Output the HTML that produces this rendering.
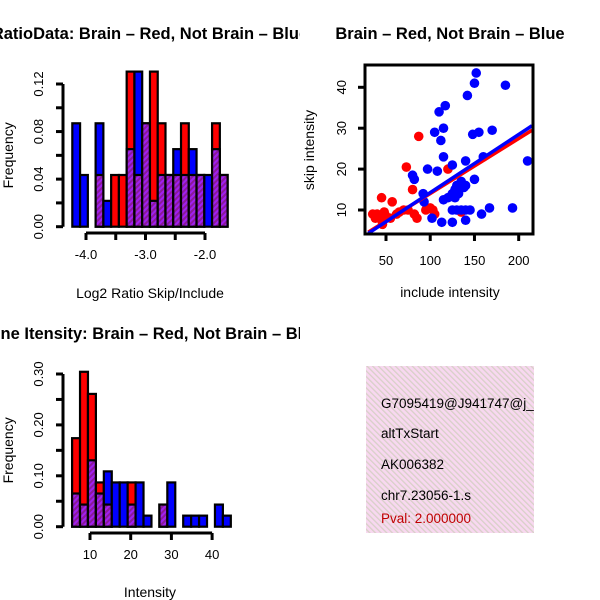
<!DOCTYPE html>
<html><head><meta charset="utf-8"><style>body{margin:0;background:#fff}svg{display:block;font-family:"Liberation Sans",sans-serif}</style></head>
<body>
<svg id="c" width="600" height="600" viewBox="0 0 600 600">
<defs>
<pattern id="hp" width="4" height="4" patternUnits="userSpaceOnUse" patternTransform="rotate(45)"><rect width="4" height="4" fill="#a020f0"/><rect width="2" height="4" fill="#8a1a9a"/></pattern>
<pattern id="pk" width="4" height="4" patternUnits="userSpaceOnUse" patternTransform="rotate(-45)"><rect width="4" height="4" fill="#f8d8f0"/><rect width="1.3" height="4" fill="#d8d0c8"/></pattern>
<clipPath id="cl"><rect x="0" y="0" width="300" height="600"/></clipPath>
<clipPath id="sc"><rect x="365" y="65" width="168" height="169"/></clipPath>
<clipPath id="bx"><rect x="366" y="366" width="168" height="167"/></clipPath>
</defs>
<g id="g"></g>
</svg>
<script>
// ---- Histogram 1: log2 ratio (bins are slots, counts out of 46)
const h1Start = -4.23, h1Width = 0.1305;
const h1Red  = [0,0,0,2,0,2,2,6,2,4,6,4,2,2,4,2,2,0,4,2];
const h1Blue = [4,2,0,4,1,0,0,3,6,4,1,2,2,3,2,3,2,2,3,2];
const h1XTicks = [-4.0,-3.5,-3.0,-2.5,-2.0];
const h1XLabels = ["-4.0","","-3.0","","-2.0"];
const h1YTicks = [0,0.02,0.04,0.06,0.08,0.10,0.12];
const h1YLabels = ["0.00","","0.04","","0.08","","0.12"];
// ---- Histogram 2: intensity
const h2Start = 5.6, h2Width = 1.95;
const h2Red  = [8,14,12,4,2,0,0,4,0,0,0,2,0,0,0,0,0,0,0,0];
const h2Blue = [3,2,6,3,5,4,4,2,4,1,0,2,4,0,1,1,1,0,2,1];
const h2XTicks = [10,20,30,40];
const h2YTicks = [0,0.05,0.10,0.15,0.20,0.25,0.30];
const h2YLabels = ["0.00","","0.10","","0.20","","0.30"];
const total = 46;
// ---- Scatter
const blueX = [152,150,185,142,117,110,115,105,112,155,148,170,115,140,160,210,125,97,108,80,82,150,130,135,140,128,132,138,125,120,115,92,93,130,125,135,140,145,102,113,125,140,158,167,193,132,128];
const blueY = [43.5,41,40.5,38,35.5,34,30,29,27,29,28.5,29.5,23,22,23,22,21,20,19.5,18.5,17.5,17.5,16,17,16,15,14,15.5,14,13,12.5,14,12,10,10,10,10,10,8,7,7,7.5,9,10.5,10.5,15.5,13];
const redX = [87,73,120,80,45,57,35,40,45,48,42,46,62,70,75,82,85,95,100,103,105,135,55,65,38,50];
const redY = [28,20.5,20,15,13,12,9,9,8.5,9.5,8,6.5,9,10,10,9,8,10,10.5,10,9,9.5,8,9.5,8,8.5];
const blueFit = [[30,4.3],[215,30.6]];
const redFit = [[30,4.6],[215,29.5]];
const sXTicks = [50,100,150,200];
const sYTicks = [10,20,30,40];
const infoLines = ["G7095419@J941747@j_","altTxStart","AK006382","chr7.23056-1.s"];

const NS="http://www.w3.org/2000/svg", G=document.getElementById('g');
function el(t,a,p){const e=document.createElementNS(NS,t);for(const k in a)e.setAttribute(k,a[k]);(p||G).appendChild(e);return e;}
function txt(x,y,s,a,p){const e=el('text',Object.assign({x:x,y:y,'font-size':13,'text-anchor':'middle'},a||{}),p);e.textContent=s;return e;}

function hist(start,w,red,blue,xs,ys,xTicks,xLabels,yTicks,yLabels,axY,yAxX,xlab,xlabY,title,pre){
  const g=el('g',{'clip-path':'url(#cl)'});
  
  
  for(let i=0;i<red.length;i++){
    const x0=xs(start+i*w), x1=xs(start+(i+1)*w);
    const r=red[i]/total, b=blue[i]/total, m=Math.min(r,b), mx=Math.max(r,b);
    if(mx<=0) continue;
    const bar=el('rect',{x:x0,y:ys(mx),width:x1-x0,height:ys(0)-ys(mx),fill:r>b?'#ff0000':'#0000ff',stroke:'#000','stroke-width':2.2},g);
    
    
    if(m>0){
      const ov=el('rect',{x:x0,y:ys(m),width:x1-x0,height:ys(0)-ys(m),fill:'url(#hp)',stroke:'#000','stroke-width':2.2},g);
      
      
    }
  }
  const ya=el('g',{},g);
  
  
  el('line',{x1:yAxX,x2:yAxX,y1:ys(yTicks[0]),y2:ys(yTicks[yTicks.length-1]),stroke:'#000','stroke-width':3},ya);
  yTicks.forEach((t,i)=>{el('line',{x1:yAxX-7,x2:yAxX,y1:ys(t),y2:ys(t),stroke:'#000','stroke-width':3},ya);
    if(yLabels[i]) txt(0,0,yLabels[i],{transform:`translate(${yAxX-20},${ys(t)}) rotate(-90)`},ya);});
  const xa=el('g',{},g);
  
  
  el('line',{x1:xs(xTicks[0]),x2:xs(xTicks[xTicks.length-1]),y1:axY,y2:axY,stroke:'#000','stroke-width':3},xa);
  xTicks.forEach((t,i)=>{el('line',{x1:xs(t),x2:xs(t),y1:axY,y2:axY+7,stroke:'#000','stroke-width':3},xa);
    if(xLabels[i]) txt(xs(t),axY+26,xLabels[i],{},xa);});
  const xl=txt(150,xlabY,xlab,{'font-size':14},g);
  
  
  const yl=txt(0,0,'Frequency',{'font-size':14,transform:`translate(13,${(ys(yTicks[0])+ys(yTicks[yTicks.length-1]))/2}) rotate(-90)`},g);
  
  
  const tt=txt(150,pre==='hist1'?39:339,title,{'font-weight':'bold','font-size':16.5},g);
  
  
}
const xs1=v=>86+(v+4)*59.5, ys1=v=>226.7-v*(142.7/0.12);
hist(h1Start,h1Width,h1Red,h1Blue,xs1,ys1,h1XTicks,h1XLabels,h1YTicks,h1YLabels,233,63,'Log2 Ratio Skip/Include',298,'RatioData: Brain – Red, Not Brain – Blue','hist1');
const xs2=v=>90+(v-10)*4.07, ys2=v=>526.7-v*(152.7/0.30);
hist(h2Start,h2Width,h2Red,h2Blue,xs2,ys2,h2XTicks,h2XTicks.map(String),h2YTicks,h2YLabels,533,63,'Intensity',597,'Gene Itensity: Brain – Red, Not Brain – Blue','hist2');

const sx=v=>386+(v-50)*(132.7/150), sy=v=>210-(v-10)*(122.7/30);
const sg=el('g',{});


const pg=el('g',{'clip-path':'url(#sc)'},sg);
redX.forEach((x,i)=>{const c=el('circle',{cx:sx(x),cy:sy(redY[i]),r:4.8,fill:'#ff0000'},pg);
  
  });
blueX.forEach((x,i)=>{const c=el('circle',{cx:sx(x),cy:sy(blueY[i]),r:4.8,fill:'#0000ff'},pg);
  
  });
const rl=el('line',{x1:sx(redFit[0][0]),y1:sy(redFit[0][1]),x2:sx(redFit[1][0]),y2:sy(redFit[1][1]),stroke:'#ff0000','stroke-width':3.5},pg);


const bl=el('line',{x1:sx(blueFit[0][0]),y1:sy(blueFit[0][1]),x2:sx(blueFit[1][0]),y2:sy(blueFit[1][1]),stroke:'#0000ff','stroke-width':3.5},pg);


el('rect',{x:365,y:65,width:168,height:169,fill:'none',stroke:'#000','stroke-width':3},sg);
sXTicks.forEach(t=>{el('line',{x1:sx(t),x2:sx(t),y1:234,y2:241,stroke:'#000','stroke-width':3},sg);txt(sx(t),265,String(t),{},sg);});
sYTicks.forEach(t=>{el('line',{x1:358,x2:365,y1:sy(t),y2:sy(t),stroke:'#000','stroke-width':3},sg);txt(0,0,String(t),{transform:`translate(346,${sy(t)}) rotate(-90)`},sg);});
const sxl=txt(450,297,'include intensity',{'font-size':14},sg);


const syl=txt(0,0,'skip intensity',{'font-size':14,transform:'translate(314,150) rotate(-90)'},sg);


const st=txt(450,39,'Brain – Red, Not Brain – Blue',{'font-weight':'bold','font-size':16.5},sg);



const ib=el('g',{'clip-path':'url(#bx)'});


el('rect',{x:366,y:366,width:168,height:167,fill:'url(#pk)'},ib);
const ly=[408,438,469,500];
infoLines.forEach((s,i)=>{const t=txt(381,ly[i],s,{'text-anchor':'start','font-size':13.5},ib);
  
  });
const pv=txt(381,523,'Pval: 2.000000',{'text-anchor':'start',fill:'#c00000','font-size':13.5},ib);


</script>
</body></html>
